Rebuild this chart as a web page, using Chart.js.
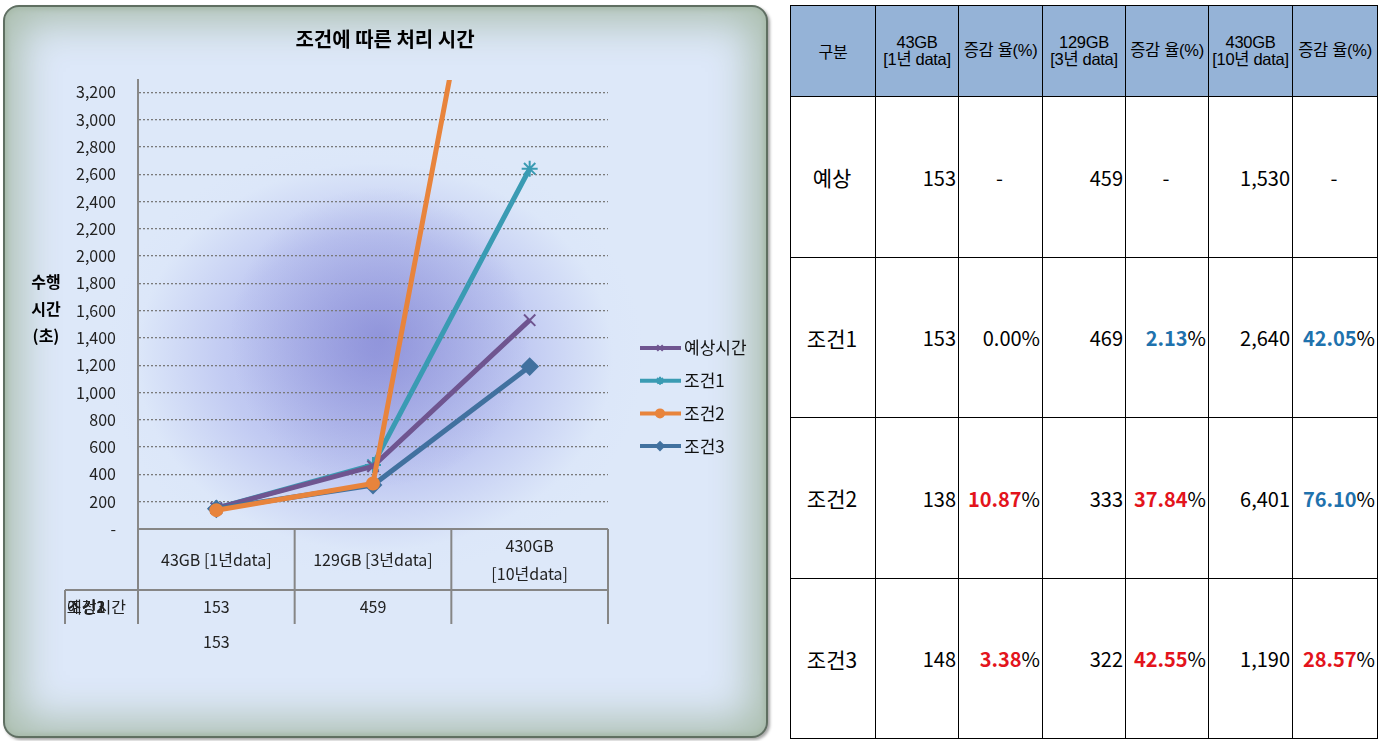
<!DOCTYPE html>
<html>
<head>
<meta charset="utf-8">
<script src="https://cdn.jsdelivr.net/npm/chart.js@4/dist/chart.umd.min.js"></script>
<style>
  body { margin: 0; width: 1380px; height: 741px; background: #fff; position: relative; overflow: hidden; font-family: "Noto Sans CJK KR", sans-serif; }
  #frame {
    position: absolute; left: 3px; top: 5px; width: 761px; height: 729px;
    border: 2px solid #5f6f61; border-radius: 16px;
    background:
      radial-gradient(ellipse 150px 150px at 375px 330px, rgba(120,122,205,0.55), rgba(120,122,205,0) 100%),
      radial-gradient(ellipse 270px 220px at 370px 350px, rgba(150,155,228,0.7), rgba(165,172,235,0.5) 55%, rgba(210,220,248,0.1) 88%, rgba(220,232,250,0) 100%),
      #dde8f9;
    box-shadow: inset 0 0 42px 15px #abbeae, inset 0 0 5px 2px #8fa391, 2px 2px 3px rgba(0,0,0,0.35);
  }
  #grafik { position: absolute; left: 0; top: 0; }
  #tabel {
    position: absolute; left: 790px; top: 5px; border-collapse: collapse;
    table-layout: fixed; background: #fff;
  }
  #tabel td { border: 1px solid #000; padding: 0 2px 0 0; font-size: 20px; color: #000; }
  #tabel tr.head td { background: #95b3d7; text-align: center; font-family: "Liberation Sans", "Noto Sans CJK KR", sans-serif; font-size: 16.5px; line-height: 1.05; padding: 0; letter-spacing: -0.3px; }
  #tabel td.lbl { text-align: center; font-size: 21px; }
  #tabel td.num { text-align: right; }
  #tabel td.dash { text-align: center; }
  #tabel b { font-weight: bold; }
</style>
</head>
<body>
<div id="frame"></div>
<canvas id="grafik" width="770" height="741"></canvas>
<table id="tabel"></table>

<script>
// chart data
const categories = ["43GB [1년data]", "129GB [3년data]", ["430GB", "[10년data]"]];
const seriesNames = ["예상시간", "조건1", "조건2", "조건3"];
const expected = [153, 459, 1530];
const cond1 = [153, 469, 2640];
const cond2 = [138, 333, 6401];
const cond3 = [148, 322, 1190];
const yTickValues = [0, 200, 400, 600, 800, 1000, 1200, 1400, 1600, 1800, 2000, 2200, 2400, 2600, 2800, 3000, 3200];

// right table data
const tableHead = ["구분", "43GB<br>[1년 data]", "증감 율(%)", "129GB<br>[3년 data]", "증감 율(%)", "430GB<br>[10년 data]", "증감 율(%)"];
const rowLabels = ["예상", "조건1", "조건2", "조건3"];
const rates1 = ["0.00", "2.13", "42.05"];
const rates2 = ["10.87", "37.84", "76.10"];
const rates3 = ["3.38", "42.55", "28.57"];
const rateColors1 = ["", "#1f72ad", "#1f72ad"];
const rateColors2 = ["#e3141c", "#e3141c", "#1f72ad"];
const rateColors3 = ["#e3141c", "#e3141c", "#e3141c"];

const warna = ["#6f5590", "#3a9bb3", "#e8843c", "#41719f"];
const markers = ["crossRot", "star", "circle", "rectRot"];
const fontKR = "'Noto Sans CJK KR', sans-serif";

function buatTabel() {
    let html = "<colgroup><col style='width:85px'><col style='width:83px'><col style='width:84px'><col style='width:83px'><col style='width:83px'><col style='width:84px'><col style='width:85px'></colgroup>";
    html += "<tr class='head' style='height:91px'>";
    tableHead.forEach((h, i) => { html += `<td style="${i === 0 ? 'font-family:' + fontKR + ';font-size:16px' : ''}">${h}</td>`; });
    html += "</tr>";

    let series = [expected, cond1, cond2, cond3];
    let rates = [null, rates1, rates2, rates3];
    let rateColors = [null, rateColors1, rateColors2, rateColors3];
    let tinggi = [161, 160, 161, 160];

    series.forEach((s, r) => {
        html += `<tr style="height:${tinggi[r]}px"><td class="lbl">${rowLabels[r]}</td>`;
        s.forEach((v, c) => {
            html += `<td class="num">${v.toLocaleString('en-US')}</td>`;
            if (!rates[r]) {
                html += `<td class="dash">-</td>`;
            } else if (!rateColors[r][c]) {
                html += `<td class="num">${rates[r][c]}%</td>`;
            } else {
                html += `<td class="num"><b style="color:${rateColors[r][c]}">${rates[r][c]}</b>%</td>`;
            }
        });
        html += "</tr>";
    });
    document.getElementById('tabel').innerHTML = html;
}

// title, axis title, legend and the little data table under the axis
const hiasanPlugin = {
    id: 'hiasan',
    afterDraw(chart) {
        const ctx = chart.ctx;
        const area = chart.chartArea;
        const x = chart.scales.x;
        ctx.save();

        // title
        ctx.fillStyle = '#000';
        ctx.font = "bold 20px " + fontKR;
        ctx.textAlign = 'center';
        ctx.textBaseline = 'middle';
        ctx.fillText("조건에 따른 처리 시간", 385, 39);

        // y axis title
        ctx.font = "bold 16px " + fontKR;
        ["수행", "시간", "(초)"].forEach((t, i) => ctx.fillText(t, 46, 282 + i * 27));

        // data table lines
        let sel = (x.getPixelForValue(1) - x.getPixelForValue(0));
        let kiri = x.getPixelForValue(0) - sel / 2;
        let kanan = x.getPixelForValue(2) + sel / 2;
        let barisAtas = area.bottom + 61;
        let barisBawah = barisAtas + 34;
        ctx.strokeStyle = '#868686';
        ctx.lineWidth = 2;
        ctx.beginPath();
        ctx.moveTo(kiri, area.bottom); ctx.lineTo(kanan, area.bottom);
        ctx.moveTo(65, barisAtas); ctx.lineTo(kanan, barisAtas);
        ctx.moveTo(65, barisAtas); ctx.lineTo(65, barisBawah);
        for (let i = 0; i <= categories.length; i++) {
            let px = kiri + i * sel;
            ctx.moveTo(px, area.bottom); ctx.lineTo(px, barisBawah);
        }
        ctx.stroke();

        ctx.fillStyle = '#222';
        ctx.font = "16px " + fontKR;
        ctx.textAlign = 'left';
        // overlapping series names, as in the original
        seriesNames.forEach(n => ctx.fillText(n, 67, barisAtas + 17));
        ctx.textAlign = 'center';
        ctx.fillText(expected[0].toLocaleString('en-US'), x.getPixelForValue(0), barisAtas + 17);
        ctx.fillText(expected[1].toLocaleString('en-US'), x.getPixelForValue(1), barisAtas + 17);
        ctx.fillText(cond1[0].toLocaleString('en-US'), x.getPixelForValue(0), barisAtas + 52);

        // legend
        ctx.textAlign = 'left';
        ctx.font = "17px " + fontKR;
        chart.data.datasets.forEach((ds, i) => {
            let ly = 348 + i * 32.7;
            ctx.strokeStyle = ds.borderColor;
            ctx.lineWidth = 4;
            ctx.beginPath();
            ctx.moveTo(640, ly); ctx.lineTo(681, ly);
            ctx.stroke();
            if (Chart.helpers && Chart.helpers.drawPoint) {
                ctx.fillStyle = ds.borderColor;
                ctx.lineWidth = 2;
                Chart.helpers.drawPoint(ctx, { pointStyle: ds.pointStyle, radius: 4, rotation: 0, borderWidth: 2 }, 660, ly);
            }
            ctx.fillStyle = '#111';
            ctx.textBaseline = 'middle';
            ctx.fillText(ds.label, 684, ly);
        });
        ctx.restore();
    }
};

function initChart() {
    let allSeries = [expected, cond1, cond2, cond3];
    let datasets = allSeries.map((d, i) => ({
        label: seriesNames[i],
        data: d,
        borderColor: warna[i],
        backgroundColor: warna[i],
        borderWidth: 5,
        pointStyle: markers[i],
        pointRadius: i === 2 ? 6 : 8,
        pointBorderWidth: 2,
        pointBackgroundColor: warna[i],
        pointBorderColor: warna[i],
        tension: 0,
        order: i === 2 ? 0 : (i === 3 ? 1 : 2)
    }));

    new Chart(document.getElementById('grafik').getContext('2d'), {
        type: 'line',
        data: { labels: categories, datasets: datasets },
        options: {
            responsive: false, animation: false,
            layout: { padding: { top: 80, right: 162, left: 0, bottom: 0 } },
            plugins: { legend: { display: false }, title: { display: false }, tooltip: { enabled: false } },
            scales: {
                x: {
                    offset: true,
                    grid: { display: false, drawTicks: false },
                    border: { display: false },
                    ticks: { color: '#222', font: { family: fontKR, size: 16, lineHeight: 1.75 }, padding: 17, crossAlign: 'center', maxRotation: 0, autoSkip: false },
                    afterFit: s => { s.height = 212; }
                },
                y: {
                    min: 0, max: 3290,
                    ticks: {
                        color: '#222', padding: 22,
                        font: { family: fontKR, size: 16 },
                        callback: v => v === 0 ? '-' : v.toLocaleString('en-US')
                    },
                    afterBuildTicks: s => { s.ticks = yTickValues.map(v => ({ value: v })); },
                    afterFit: s => { s.width = 138; },
                    grid: { color: '#7a7a7a', lineWidth: 1.3, drawTicks: false },
                    border: { display: true, color: '#888', width: 2, dash: [2, 2] }
                }
            }
        },
        plugins: [hiasanPlugin]
    });
}

window.onload = function() {
    buatTabel();
    initChart();
};
</script>
</body>
</html>
